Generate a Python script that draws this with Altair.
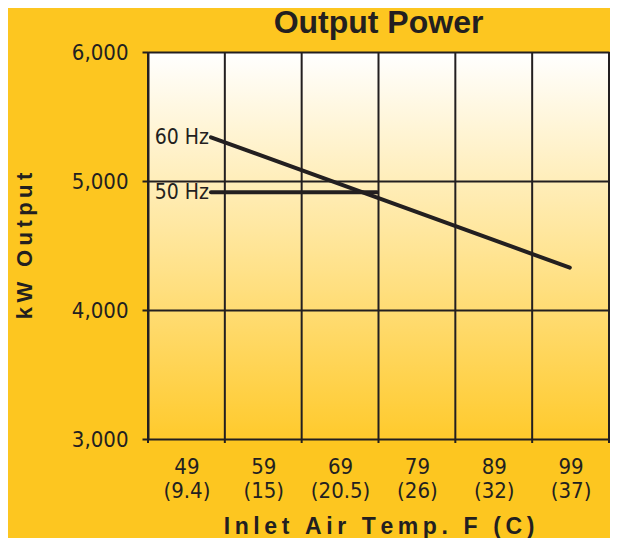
import altair as alt
import pandas as pd

# ---- data ----
temps_f = [49, 59, 69, 79, 89, 99]
temps_c = ["(9.4)", "(15)", "(20.5)", "(26)", "(32)", "(37)"]
grid_x = [44, 54, 64, 74, 84, 94, 104]
y_ticks = [3000, 4000, 5000, 6000]

hz60_x = [52.2, 98.9]
hz60_y = [5339, 4328]
hz50_x = [52.2, 73.8]
hz50_y = [4912, 4912]

chart_title = "Output Power"

BG = "#FDC620"
INK = "#231F20"
W, H = 461, 387
NARROW = "Liberation Sans Narrow, DejaVu Sans Condensed, Liberation Sans, sans-serif"
BOLD = "Liberation Sans, Arial, sans-serif"

lines = pd.DataFrame({
    "temp": hz60_x + hz50_x,
    "kw": hz60_y + hz50_y,
    "series": ["60 Hz"] * len(hz60_x) + ["50 Hz"] * len(hz50_x),
})
labels = pd.DataFrame({
    "temp": [hz60_x[0], hz50_x[0]],
    "kw": [hz60_y[0], hz50_y[0]],
    "series": ["60 Hz", "50 Hz"],
})
grid = pd.DataFrame({"gx": grid_x})

xscale = alt.Scale(domain=[44, 104], nice=False, zero=False)
yscale = alt.Scale(domain=[3000, 6000], nice=False, zero=False)

c_expr = " : ".join(f"datum.value == {f} ? '{c}'" for f, c in zip(temps_f, temps_c)) + " : ''"
label_expr = f"[datum.label, {c_expr}]"


def spaced(s, sp="\u2009"):
    return sp.join(s)


bgrect = alt.Chart(pd.DataFrame({"a": [0]})).mark_rect(
    fill=alt.Gradient(
        gradient="linear",
        stops=[
            alt.GradientStop(offset=0, color="#FFFFFF"),
            alt.GradientStop(offset=0.5, color="#FFE597"),
            alt.GradientStop(offset=1, color="#FFCA2C"),
        ],
        x1=0, x2=0, y1=0, y2=1,
    )
).encode(x=alt.value(0), x2=alt.value(W), y=alt.value(0), y2=alt.value(H))

vrules = alt.Chart(grid).mark_rule(color=INK, strokeWidth=2).encode(
    x=alt.X("gx:Q", scale=xscale),
    y=alt.value(0),
    y2=alt.value(H + 4),
)

line_layer = alt.Chart(lines).mark_line(
    color=INK, strokeWidth=4, strokeCap="round"
).encode(
    x=alt.X(
        "temp:Q",
        scale=xscale,
        axis=alt.Axis(
            values=temps_f,
            title=spaced("Inlet Air Temp. F (C)"),
            grid=False,
            ticks=False,
            domain=False,
            labelExpr=label_expr,
            labelFont=NARROW,
            labelFontSize=22,
            labelColor=INK,
            labelLineHeight=24,
            labelPadding=17,
            labelBaseline="top",
            titleFont=BOLD,
            titleFontSize=23,
            titleFontWeight="bold",
            titleColor=INK,
            titleBaseline="alphabetic",
            titleY=94,
        ),
    ),
    y=alt.Y(
        "kw:Q",
        scale=yscale,
        axis=alt.Axis(
            values=y_ticks,
            format=",d",
            title=spaced("kW Output"),
            grid=True,
            gridColor=INK,
            gridWidth=2,
            gridOpacity=1,
            domain=True,
            domainColor=INK,
            domainWidth=2,
            tickSize=6,
            tickWidth=2,
            tickColor=INK,
            labelFont=NARROW,
            labelFontSize=22,
            labelColor=INK,
            labelPadding=14,
            titleFont=BOLD,
            titleFontSize=22,
            titleFontWeight="bold",
            titleColor=INK,
            titleAngle=270,
            titleBaseline="middle",
            titleX=-124,
            titleY=H / 2,
            zindex=1,
        ),
    ),
    detail="series:N",
)

text_layer = alt.Chart(labels).mark_text(
    align="right", baseline="middle", dx=-2, dy=1, font=NARROW, fontSize=21, color=INK
).encode(
    x=alt.X("temp:Q", scale=xscale),
    y=alt.Y("kw:Q", scale=yscale),
    text="series:N",
)

title_layer = alt.Chart(pd.DataFrame({"t": [chart_title]})).mark_text(
    font=BOLD, fontSize=32, fontWeight="bold", color=INK,
    align="center", baseline="alphabetic",
).encode(x=alt.value(W / 2), y=alt.value(-19), text="t:N")

chart = alt.layer(bgrect, vrules, line_layer, text_layer, title_layer).properties(
    width=W,
    height=H,
    background=BG,
    autosize=alt.AutoSizeParams(type="none"),
    padding={"left": 140, "top": 44, "right": 1, "bottom": 99},
).configure_view(stroke=None)

chart.save("out.html", embed_options={"renderer": "svg", "actions": False})
